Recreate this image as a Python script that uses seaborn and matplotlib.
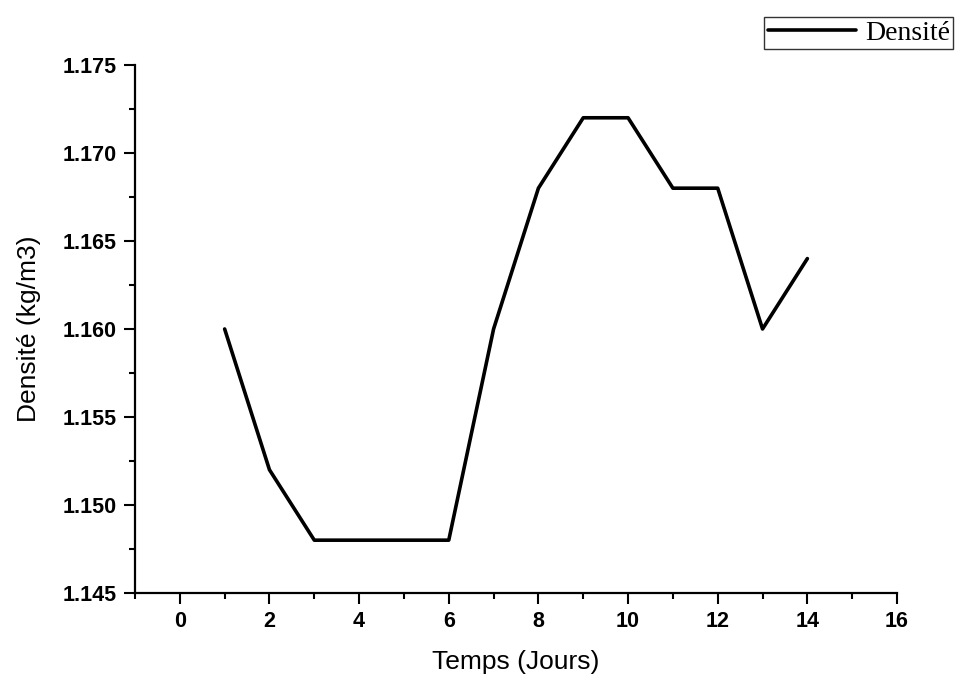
import matplotlib
matplotlib.use("Agg")
import matplotlib.pyplot as plt
import seaborn as sns
import pandas as pd
from matplotlib.ticker import MultipleLocator

jours = [1, 2, 3, 4, 5, 6, 7, 8, 9, 10, 11, 12, 13, 14]
densite = [1.160, 1.152, 1.148, 1.148, 1.148, 1.148, 1.160, 1.168,
           1.172, 1.172, 1.168, 1.168, 1.160, 1.164]
x_ticks = [0, 2, 4, 6, 8, 10, 12, 14, 16]
y_ticks = [1.145, 1.150, 1.155, 1.160, 1.165, 1.170, 1.175]

sns.set_style("ticks")
plt.rcParams["font.family"] = ["Liberation Sans", "DejaVu Sans"]
plt.rcParams["text.color"] = "black"
plt.rcParams["axes.labelcolor"] = "black"
plt.rcParams["xtick.color"] = "black"
plt.rcParams["ytick.color"] = "black"

df = pd.DataFrame({"Temps": jours, "Densité": densite})

fig = plt.figure(figsize=(9.56, 6.79), dpi=100)
ax = fig.add_axes([0.1412, 0.1267, 0.7971, 0.7776])

sns.lineplot(data=df, x="Temps", y="Densité", ax=ax, color="black",
             linewidth=2.6, label="Densité", legend=False)

ax.set_xlim(-1, 16)
ax.set_ylim(1.145, 1.175)
ax.set_xticks(x_ticks)
ax.set_yticks(y_ticks)
ax.set_xticklabels([str(t) for t in x_ticks])
ax.set_yticklabels([f"{t:.3f}" for t in y_ticks])
ax.xaxis.set_minor_locator(MultipleLocator(1))
ax.yaxis.set_minor_locator(MultipleLocator(0.0025))

for lab in ax.get_xticklabels() + ax.get_yticklabels():
    lab.set_fontweight("bold")
    lab.set_fontsize(15.5)
    lab.set_color("black")

ax.tick_params(axis="both", which="major", direction="out", length=8,
               width=1.5, color="black", pad=5)
ax.tick_params(axis="both", which="minor", direction="out", length=4,
               width=1.5, color="black")

for side in ["top", "right"]:
    ax.spines[side].set_visible(False)
for side in ["left", "bottom"]:
    ax.spines[side].set_linewidth(1.6)
    ax.spines[side].set_color("black")

ax.set_xlabel("Temps (Jours)", fontsize=19, labelpad=13, color="black")
ax.set_ylabel("Densité (kg/m3)", fontsize=19, labelpad=16, color="black")

handles, labels = ax.get_legend_handles_labels()
leg = fig.legend(handles, labels, loc="upper right",
                 bbox_to_anchor=(0.997, 0.975), frameon=True, fancybox=False,
                 prop={"family": "Liberation Serif", "size": 20},
                 handlelength=3.2, borderpad=0.12, handletextpad=0.3,
                 borderaxespad=0)
leg.get_frame().set_edgecolor("black")
leg.get_frame().set_linewidth(1.0)

fig.savefig("out.png", dpi=100, facecolor="white")
